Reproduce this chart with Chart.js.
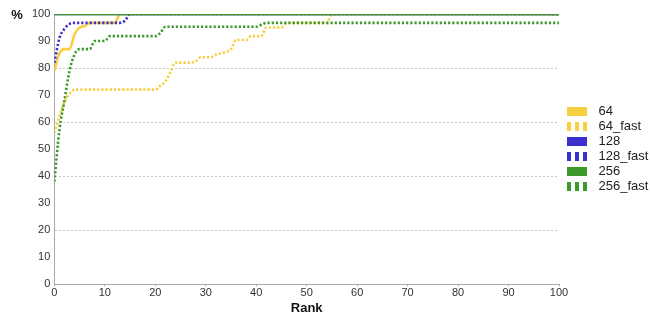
<!DOCTYPE html>
<html>
<head>
<meta charset="utf-8">
<script src="https://cdn.jsdelivr.net/npm/chart.js@4/dist/chart.umd.min.js"></script>
<style>
  html, body { margin: 0; padding: 0; background: #fff; }
  #wrap { width: 650px; height: 320px; }
</style>
</head>
<body>
<div id="wrap"><canvas id="c" width="650" height="320"></canvas></div>
<script>
// Rank positions 0..100
const ranks = Array.from({ length: 101 }, (_, i) => i);

// Cumulative hit rate (%) at each rank
const v64 = [
  79, 85.5, 87, 87, 92.5, 95, 95.5, 96.7, 96.7, 96.7,
  96.7, 96.7, 96.7, 100, 100, 100, 100, 100, 100, 100,
  100, 100, 100, 100, 100, 100, 100, 100, 100, 100,
  100, 100, 100, 100, 100, 100, 100, 100, 100, 100,
  100, 100, 100, 100, 100, 100, 100, 100, 100, 100,
  100, 100, 100, 100, 100, 100, 100, 100, 100, 100,
  100, 100, 100, 100, 100, 100, 100, 100, 100, 100,
  100, 100, 100, 100, 100, 100, 100, 100, 100, 100,
  100, 100, 100, 100, 100, 100, 100, 100, 100, 100,
  100, 100, 100, 100, 100, 100, 100, 100, 100, 100,
  100
];
const v64fast = [
  56, 62, 67.5, 70.5, 72, 72, 72, 72, 72, 72,
  72, 72, 72, 72, 72, 72, 72, 72, 72, 72,
  72, 73.5, 75, 78.5, 82, 82, 82, 82, 82.5, 84,
  84, 84, 85, 85.5, 86, 87, 90.4, 90.4, 90.4, 91.8,
  91.8, 91.8, 95, 95, 95, 95, 96.7, 96.7, 96.7, 96.7,
  96.7, 96.7, 96.7, 96.7, 96.7, 100, 100, 100, 100, 100,
  100, 100, 100, 100, 100, 100, 100, 100, 100, 100,
  100, 100, 100, 100, 100, 100, 100, 100, 100, 100,
  100, 100, 100, 100, 100, 100, 100, 100, 100, 100,
  100, 100, 100, 100, 100, 100, 100, 100, 100, 100,
  100
];
const v128 = [
  100, 100, 100, 100, 100, 100, 100, 100, 100, 100,
  100, 100, 100, 100, 100, 100, 100, 100, 100, 100,
  100, 100, 100, 100, 100, 100, 100, 100, 100, 100,
  100, 100, 100, 100, 100, 100, 100, 100, 100, 100,
  100, 100, 100, 100, 100, 100, 100, 100, 100, 100,
  100, 100, 100, 100, 100, 100, 100, 100, 100, 100,
  100, 100, 100, 100, 100, 100, 100, 100, 100, 100,
  100, 100, 100, 100, 100, 100, 100, 100, 100, 100,
  100, 100, 100, 100, 100, 100, 100, 100, 100, 100,
  100, 100, 100, 100, 100, 100, 100, 100, 100, 100,
  100
];
const v128fast = [
  82, 91, 94.5, 96.3, 96.7, 96.7, 96.7, 96.7, 96.7, 96.7,
  96.7, 96.7, 96.7, 96.7, 97.5, 100, 100, 100, 100, 100,
  100, 100, 100, 100, 100, 100, 100, 100, 100, 100,
  100, 100, 100, 100, 100, 100, 100, 100, 100, 100,
  100, 100, 100, 100, 100, 100, 100, 100, 100, 100,
  100, 100, 100, 100, 100, 100, 100, 100, 100, 100,
  100, 100, 100, 100, 100, 100, 100, 100, 100, 100,
  100, 100, 100, 100, 100, 100, 100, 100, 100, 100,
  100, 100, 100, 100, 100, 100, 100, 100, 100, 100,
  100, 100, 100, 100, 100, 100, 100, 100, 100, 100,
  100
];
const v256 = [
  100, 100, 100, 100, 100, 100, 100, 100, 100, 100,
  100, 100, 100, 100, 100, 100, 100, 100, 100, 100,
  100, 100, 100, 100, 100, 100, 100, 100, 100, 100,
  100, 100, 100, 100, 100, 100, 100, 100, 100, 100,
  100, 100, 100, 100, 100, 100, 100, 100, 100, 100,
  100, 100, 100, 100, 100, 100, 100, 100, 100, 100,
  100, 100, 100, 100, 100, 100, 100, 100, 100, 100,
  100, 100, 100, 100, 100, 100, 100, 100, 100, 100,
  100, 100, 100, 100, 100, 100, 100, 100, 100, 100,
  100, 100, 100, 100, 100, 100, 100, 100, 100, 100,
  100
];
const v256fast = [
  38, 57, 68, 79, 85, 87, 87, 87, 90, 90,
  90, 91.8, 91.8, 91.8, 91.8, 91.8, 91.8, 91.8, 91.8, 91.8,
  91.8, 93, 95.3, 95.3, 95.3, 95.3, 95.3, 95.3, 95.3, 95.3,
  95.3, 95.3, 95.3, 95.3, 95.3, 95.3, 95.3, 95.3, 95.3, 95.3,
  95.3, 96, 96.7, 96.7, 96.7, 96.7, 96.7, 96.7, 96.7, 96.7,
  96.7, 96.7, 96.7, 96.7, 96.7, 96.7, 96.7, 96.7, 96.7, 96.7,
  96.7, 96.7, 96.7, 96.7, 96.7, 96.7, 96.7, 96.7, 96.7, 96.7,
  96.7, 96.7, 96.7, 96.7, 96.7, 96.7, 96.7, 96.7, 96.7, 96.7,
  96.7, 96.7, 96.7, 96.7, 96.7, 96.7, 96.7, 96.7, 96.7, 96.7,
  96.7, 96.7, 96.7, 96.7, 96.7, 96.7, 96.7, 96.7, 96.7, 96.7,
  96.7
];

const seriesNames = ['64', '64_fast', '128', '128_fast', '256', '256_fast'];
const seriesValues = [v64, v64fast, v128, v128fast, v256, v256fast];
const xTicks = [0, 10, 20, 30, 40, 50, 60, 70, 80, 90, 100];
const yTicks = [0, 10, 20, 30, 40, 50, 60, 70, 80, 90, 100];

const YELLOW = '#f8cf40';
const BLUE = '#3a2fd0';
const GREEN = '#3c9a2c';
const colors = [YELLOW, YELLOW, BLUE, BLUE, GREEN, GREEN];
const dashed = [false, true, false, true, false, true];

const FONT = "'Liberation Sans', Arial, Helvetica, sans-serif";

// Legend swatches: a solid bar, or three short bars for the dotted series,
// with a little blank space either side
function makeSwatch(color, isDashed) {
  const c = document.createElement('canvas');
  c.width = 31; c.height = 9;
  const g = c.getContext('2d');
  g.fillStyle = color;
  const x0 = 6;
  if (isDashed) {
    g.fillRect(x0, 0, 4, 9);
    g.fillRect(x0 + 8, 0, 4, 9);
    g.fillRect(x0 + 16, 0, 4, 9);
  } else {
    g.fillRect(x0, 0, 20, 9);
  }
  return c;
}
const swatches = colors.map((c, i) => makeSwatch(c, dashed[i]));

const datasets = seriesNames.map((name, i) => ({
  label: name,
  data: ranks.map((r, k) => ({ x: r, y: seriesValues[i][k] })),
  borderColor: colors[i],
  backgroundColor: colors[i],
  borderWidth: dashed[i] ? 2.6 : 2.6,
  borderDash: dashed[i] ? [2.2, 2] : [],
  borderCapStyle: 'butt',
  pointRadius: 0,
  pointHoverRadius: 0,
  cubicInterpolationMode: 'monotone',
  fill: false,
  order: seriesNames.length - 1 - i
}));

// "%" unit label beside the top of the value axis
const unitLabel = {
  id: 'unitLabel',
  afterDraw(chart) {
    const ctx = chart.ctx;
    const y = chart.scales.y.getPixelForValue(100);
    ctx.save();
    ctx.font = 'bold 13px ' + FONT;
    ctx.fillStyle = '#111';
    ctx.textAlign = 'center';
    ctx.textBaseline = 'middle';
    ctx.fillText('%', 17, y + 1);
    ctx.restore();
  }
};

new Chart(document.getElementById('c'), {
  type: 'line',
  data: { datasets },
  plugins: [unitLabel],
  options: {
    responsive: false,
    animation: false,
    devicePixelRatio: 1,
    layout: { padding: { left: 28, top: 14, right: 0, bottom: 4 } },
    plugins: {
      tooltip: { enabled: false },
      legend: {
        position: 'right',
        fullSize: false,
        maxWidth: 91,
        labels: {
          usePointStyle: true,
          pointStyleWidth: 31,
          boxHeight: 9,
          padding: 2,
          color: '#222',
          font: { family: FONT, size: 13, lineHeight: 1.15 },
          sort: (a, b) => a.datasetIndex - b.datasetIndex,
          generateLabels(chart) {
            const items = Chart.defaults.plugins.legend.labels.generateLabels(chart);
            items.forEach(it => { it.pointStyle = swatches[it.datasetIndex]; });
            return items;
          }
        }
      }
    },
    scales: {
      x: {
        type: 'linear',
        min: 0,
        max: 100,
        afterBuildTicks(scale) { scale.ticks = xTicks.map(v => ({ value: v })); },
        ticks: { color: '#333', font: { family: FONT, size: 11 }, padding: 0, maxRotation: 0 },
        grid: { drawOnChartArea: false, tickLength: 2, color: '#aaa' },
        border: { color: '#aaa', width: 1 },
        title: {
          display: true,
          text: 'Rank',
          color: '#111',
          font: { family: FONT, size: 13, weight: 'bold' },
          padding: { top: 1, bottom: 0 }
        }
      },
      y: {
        min: 0,
        max: 100,
        afterBuildTicks(scale) { scale.ticks = yTicks.map(v => ({ value: v })); },
        ticks: { color: '#333', font: { family: FONT, size: 11 }, padding: 4 },
        grid: {
          drawTicks: false,
          color: ctx => (ctx.tick && ctx.tick.value % 20 === 0 && ctx.tick.value > 0 && ctx.tick.value < 100) ? '#c8c8c8' : 'rgba(0,0,0,0)',
          lineWidth: 1
        },
        border: { color: '#aaa', width: 1, dash: [2, 2] }
      }
    }
  }
});
</script>
</body>
</html>
